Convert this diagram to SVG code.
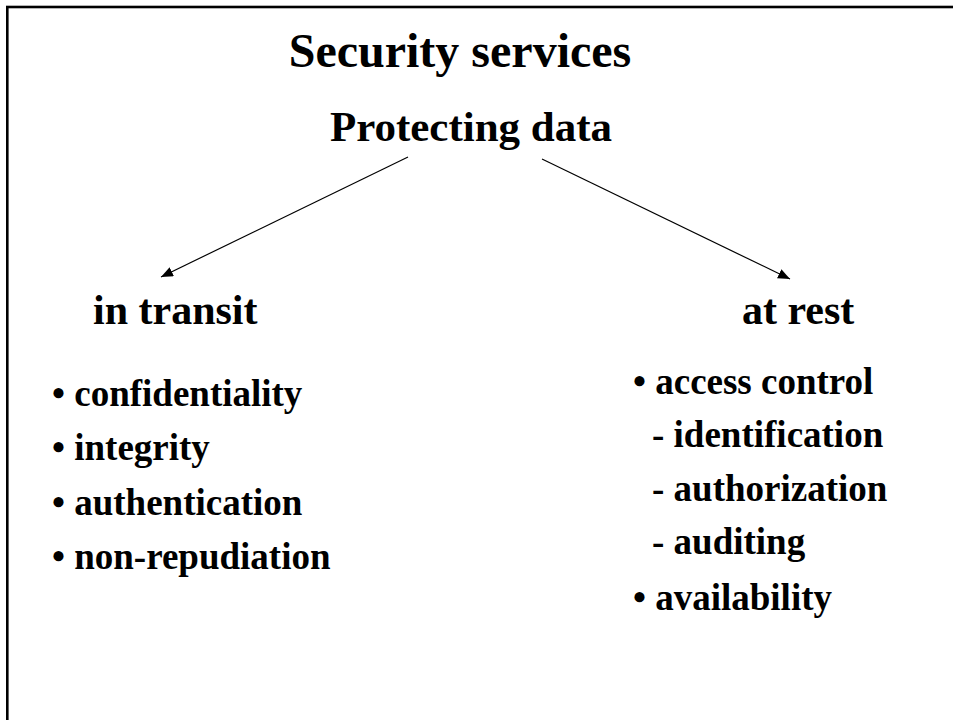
<svg xmlns="http://www.w3.org/2000/svg" width="953" height="720" viewBox="0 0 953 720">
<defs>
<style>
.t{font-family:"Liberation Serif","Times New Roman",serif;font-weight:bold;fill:#000}
.h1{font-size:48px}
.h2{font-size:43px}
.h3{font-size:42px}
.b{font-size:37px}
.conn{stroke:#000;stroke-width:1.2;fill:none}
</style>
<marker id="ah" markerUnits="userSpaceOnUse" markerWidth="14" markerHeight="12" refX="12" refY="5" orient="auto">
<path d="M0,0 L12,5 L0,10 z" fill="#000"/>
</marker>
</defs>
<rect x="0" y="0" width="953" height="720" fill="#fff"/>
<rect x="7.3" y="7" width="960" height="730" fill="none" stroke="#000" stroke-width="2.6"/>
<g id="title"><text class="t h1" x="460" y="67" text-anchor="middle">Security services</text></g>
<g id="protecting"><text class="t h2" x="471" y="141" text-anchor="middle">Protecting data</text></g>
<g id="connectors">
<line class="conn" x1="408" y1="157" x2="161" y2="277" marker-end="url(#ah)"/>
<line class="conn" x1="542" y1="159" x2="790" y2="279" marker-end="url(#ah)"/>
</g>
<g id="in-transit">
<text class="t h3" x="93" y="324">in transit</text>
<text class="t b" x="52" y="406">• confidentiality</text>
<text class="t b" x="52" y="460">• integrity</text>
<text class="t b" x="52" y="515">• authentication</text>
<text class="t b" x="52" y="569">• non-repudiation</text>
</g>
<g id="at-rest">
<text class="t h3" x="742" y="324">at rest</text>
<text class="t b" x="633" y="394">• access control</text>
<text class="t b" x="652" y="447">- identification</text>
<text class="t b" x="652" y="501">- authorization</text>
<text class="t b" x="652" y="554">- auditing</text>
<text class="t b" x="633" y="610">• availability</text>
</g>
</svg>
